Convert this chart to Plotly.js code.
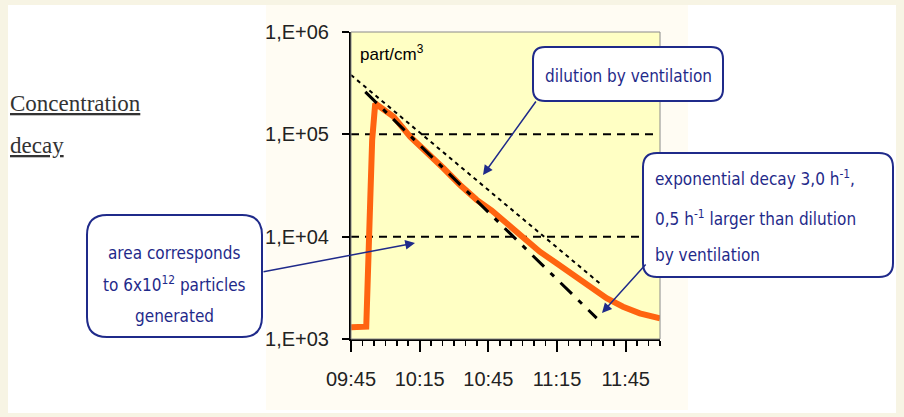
<!DOCTYPE html>
<html>
<head>
<meta charset="utf-8">
<script src="https://cdn.plot.ly/plotly-3.0.1.min.js"></script>
<style>
  html, body { margin: 0; padding: 0; background: #f7f4e4; }
  #chart { width: 904px; height: 417px; }
</style>
</head>
<body>
<div id="chart"></div>
<script>
// measured particle concentration (part/cm3)
const measTimes = [
  '2000-01-01 09:45:00', '2000-01-01 09:51:40', '2000-01-01 09:53:25',
  '2000-01-01 09:54:15', '2000-01-01 09:55:35', '2000-01-01 10:03:35',
  '2000-01-01 10:10:50', '2000-01-01 10:18:10', '2000-01-01 10:25:25',
  '2000-01-01 10:32:40', '2000-01-01 10:39:55', '2000-01-01 10:46:30',
  '2000-01-01 10:53:00', '2000-01-01 11:00:15', '2000-01-01 11:07:30',
  '2000-01-01 11:14:50', '2000-01-01 11:22:05', '2000-01-01 11:29:20',
  '2000-01-01 11:36:40', '2000-01-01 11:43:50', '2000-01-01 11:51:10',
  '2000-01-01 12:00:00'
];
const measValues = [
  1300, 1320, 23000, 88000, 200000, 149000, 95000, 67800, 46600, 32000, 22900,
  18000, 13500, 9640, 7130, 5490, 4220, 3250, 2500, 2070, 1780, 1590
];

// fitted exponential decay 3,0 h-1
const fitTimes = ['2000-01-01 09:51:15', '2000-01-01 11:32:20'];
const fitValues = [260000, 1600];

// dilution by ventilation
const dilTimes = ['2000-01-01 09:45:00', '2000-01-01 11:33:40'];
const dilValues = [380000, 3500];

// dashed reference levels
const refLevels = [1e4, 1e5];
const refTimes = ['2000-01-01 09:45:00', '2000-01-01 11:58:30'];

const xTickVals = ['2000-01-01 09:45', '2000-01-01 10:15', '2000-01-01 10:45', '2000-01-01 11:15', '2000-01-01 11:45'];
const xTickText = ['09:45', '10:15', '10:45', '11:15', '11:45'];
const yTickVals = [1e3, 1e4, 1e5, 1e6];
const yTickText = ['1,E+03', '1,E+04', '1,E+05', '1,E+06'];

// page geometry (pixels) -> paper coords
const W = 904, H = 417;
const PL = 351, PR = 660, PT = 32, PB = 339;
const px = X => (X - PL) / (PR - PL);
const py = Y => (PB - Y) / (PB - PT);

const NAVY = '#1f2a8a';

function roundBox(x0, y0, x1, y1, r) {
  const p = (X, Y) => px(X) + ',' + py(Y);
  return 'M' + p(x0 + r, y0) + ' L' + p(x1 - r, y0) +
    ' Q' + p(x1, y0) + ' ' + p(x1, y0 + r) +
    ' L' + p(x1, y1 - r) + ' Q' + p(x1, y1) + ' ' + p(x1 - r, y1) +
    ' L' + p(x0 + r, y1) + ' Q' + p(x0, y1) + ' ' + p(x0, y1 - r) +
    ' L' + p(x0, y0 + r) + ' Q' + p(x0, y0) + ' ' + p(x0 + r, y0) + ' Z';
}

function pixRect(x0, y0, x1, y1, fill) {
  return {
    type: 'rect', xref: 'paper', yref: 'paper', layer: 'below',
    x0: px(x0), x1: px(x1), y0: py(y1), y1: py(y0),
    fillcolor: fill, line: { width: 0 }
  };
}

const refX = [], refY = [];
refLevels.forEach(v => {
  refX.push(refTimes[0], refTimes[1], null);
  refY.push(v, v, null);
});

const traces = [
  {
    x: refX, y: refY, type: 'scatter', mode: 'lines',
    line: { color: '#000', width: 2, dash: '8px,6px' }
  },
  {
    x: dilTimes, y: dilValues, type: 'scatter', mode: 'lines',
    line: { color: '#000', width: 2, dash: '4px,4px' }
  },
  {
    x: measTimes, y: measValues, type: 'scatter', mode: 'lines',
    line: { color: '#ff6410', width: 6, shape: 'linear' }
  },
  {
    x: fitTimes, y: fitValues, type: 'scatter', mode: 'lines',
    line: { color: '#000', width: 3, dash: '16px,9px,5px,9px' }
  }
];

const tickFont = { family: 'Liberation Sans, Arial, sans-serif', size: 20, color: '#222' };
const calloutFont = { family: 'DejaVu Sans Condensed, DejaVu Sans, sans-serif', size: 17, color: NAVY };

const layout = {
  width: W, height: H,
  margin: { l: PL, r: W - PR, t: PT, b: H - PB },
  paper_bgcolor: '#f7f4e4',
  plot_bgcolor: '#ffffc4',
  showlegend: false,
  hovermode: false,
  xaxis: {
    type: 'date',
    range: ['2000-01-01 09:45', '2000-01-01 12:00'],
    tickmode: 'array', tickvals: xTickVals, ticktext: xTickText,
    ticks: 'outside', ticklen: 11, tickwidth: 2, tickcolor: '#000',
    ticklabelstandoff: 10,
    minor: { dtick: 5 * 60 * 1000, tick0: '2000-01-01 09:45', ticks: 'outside', ticklen: 5, tickwidth: 1.5, tickcolor: '#000', showgrid: false },
    showline: true, linecolor: '#000', linewidth: 2,
    showgrid: false, zeroline: false, fixedrange: true,
    tickfont: tickFont
  },
  yaxis: {
    type: 'log',
    range: [3, 6],
    tickmode: 'array', tickvals: yTickVals, ticktext: yTickText,
    ticks: 'outside', ticklen: 7, tickwidth: 2, tickcolor: '#000',
    ticklabelstandoff: 9,
    showline: true, linecolor: '#000', linewidth: 2,
    showgrid: false, zeroline: false, fixedrange: true,
    tickfont: tickFont
  },
  shapes: [
    pixRect(8, 5, 896, 413, '#ffffff'),
    pixRect(266, 5, 688, 410, '#fffcf3'),
    pixRect(PL, PT, PR, PB, '#ffffc4'),
    {
      type: 'rect', xref: 'paper', yref: 'paper', layer: 'above',
      x0: 0, x1: 1, y0: 0, y1: 1,
      line: { color: '#8a8a8a', width: 1 }
    },
    { type: 'path', xref: 'paper', yref: 'paper', path: roundBox(533, 47, 723, 101, 12), fillcolor: '#fff', line: { color: NAVY, width: 2 } },
    { type: 'path', xref: 'paper', yref: 'paper', path: roundBox(643, 153, 893, 277, 14), fillcolor: '#fff', line: { color: NAVY, width: 2 } },
    { type: 'path', xref: 'paper', yref: 'paper', path: roundBox(87, 215, 262, 337, 20), fillcolor: '#fff', line: { color: NAVY, width: 2 } }
  ],
  annotations: [
    { xref: 'paper', yref: 'paper', x: px(8), y: py(103), xanchor: 'left', yanchor: 'middle', showarrow: false,
      text: '<u>Concentration</u>', font: { family: 'Liberation Serif, Times New Roman, serif', size: 23, color: '#333' } },
    { xref: 'paper', yref: 'paper', x: px(8), y: py(145), xanchor: 'left', yanchor: 'middle', showarrow: false,
      text: '<u>decay</u>', font: { family: 'Liberation Serif, Times New Roman, serif', size: 23, color: '#333' } },
    { xref: 'paper', yref: 'paper', x: px(358), y: py(53), xanchor: 'left', yanchor: 'middle', showarrow: false,
      text: 'part/cm<sup>3</sup>', font: { family: 'Liberation Sans, Arial, sans-serif', size: 17, color: '#000' } },
    { xref: 'paper', yref: 'paper', x: px(628), y: py(76), xanchor: 'center', yanchor: 'middle', showarrow: false,
      text: 'dilution by ventilation', font: calloutFont },
    { xref: 'paper', yref: 'paper', x: px(653), y: py(178), xanchor: 'left', yanchor: 'middle', showarrow: false,
      text: 'exponential decay 3,0 h<sup>-1</sup>,', font: calloutFont },
    { xref: 'paper', yref: 'paper', x: px(653), y: py(218), xanchor: 'left', yanchor: 'middle', showarrow: false,
      text: '0,5 h<sup>-1</sup> larger than dilution', font: calloutFont },
    { xref: 'paper', yref: 'paper', x: px(653), y: py(255), xanchor: 'left', yanchor: 'middle', showarrow: false,
      text: 'by ventilation', font: calloutFont },
    { xref: 'paper', yref: 'paper', x: px(174), y: py(253), xanchor: 'center', yanchor: 'middle', showarrow: false,
      text: 'area corresponds', font: calloutFont },
    { xref: 'paper', yref: 'paper', x: px(174), y: py(284), xanchor: 'center', yanchor: 'middle', showarrow: false,
      text: 'to 6x10<sup>12</sup> particles', font: calloutFont },
    { xref: 'paper', yref: 'paper', x: px(174), y: py(316), xanchor: 'center', yanchor: 'middle', showarrow: false,
      text: 'generated', font: calloutFont },
    // arrows
    { xref: 'paper', yref: 'paper', x: px(483), y: py(175), ax: 54, ay: -75, text: '', showarrow: true,
      arrowhead: 2, arrowsize: 1.3, arrowwidth: 1.5, arrowcolor: NAVY },
    { xref: 'paper', yref: 'paper', x: px(415), y: py(243), ax: -153, ay: 29, text: '', showarrow: true,
      arrowhead: 2, arrowsize: 1.3, arrowwidth: 1.5, arrowcolor: NAVY },
    { xref: 'paper', yref: 'paper', x: px(602), y: py(313), ax: 45, ay: -50, text: '', showarrow: true,
      arrowhead: 2, arrowsize: 1.3, arrowwidth: 1.5, arrowcolor: NAVY }
  ]
};

Plotly.newPlot('chart', traces, layout, { displayModeBar: false, staticPlot: true });
</script>
</body>
</html>
